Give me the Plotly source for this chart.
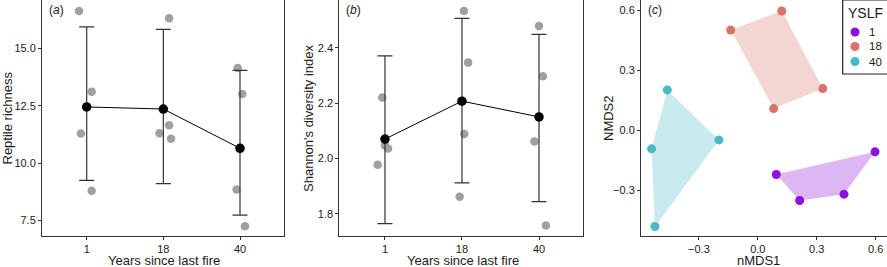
import plotly.graph_objects as go

# ---------------- data ----------------
yslf_labels = ["1", "18", "40"]

# panel (a) reptile richness
rich_mean = [12.45, 12.36, 10.65]
rich_upper = [15.94, 15.83, 14.04]
rich_lower = [9.25, 9.11, 7.74]
rich_pts_group = [0, 0, 0, 0, 1, 1, 1, 1, 2, 2, 2, 2]
rich_pts_jitter = [-0.10, 0.065, -0.075, 0.065, 0.075, 0.075, -0.05, 0.10, -0.03, 0.03, -0.045, 0.065]
rich_pts_val = [16.63, 13.11, 11.29, 8.80, 16.31, 11.65, 11.30, 11.07, 14.15, 13.01, 8.85, 7.25]

# panel (b) Shannon diversity
shan_mean = [2.07, 2.207, 2.15]
shan_upper = [2.370, 2.506, 2.448]
shan_lower = [1.765, 1.912, 1.844]
shan_pts_group = [0, 0, 0, 0, 1, 1, 1, 1, 2, 2, 2, 2]
shan_pts_jitter = [-0.035, 0.0, 0.04, -0.095, 0.025, 0.08, 0.03, -0.03, 0.0, 0.05, -0.06, 0.09]
shan_pts_val = [2.22, 2.047, 2.036, 1.977, 2.532, 2.346, 2.088, 1.862, 2.478, 2.297, 2.061, 1.758]

# panel (c) NMDS (hull order)
nmds1_g1 = [0.094, 0.597, 0.439, 0.213]
nmds2_g1 = [-0.221, -0.1075, -0.319, -0.351]
nmds1_g18 = [-0.138, 0.122, 0.331, 0.081]
nmds2_g18 = [0.5025, 0.5975, 0.209, 0.109]
nmds1_g40 = [-0.461, -0.198, -0.524, -0.541]
nmds2_g40 = [0.2025, -0.0475, -0.481, -0.0925]

colors = {"1": "#9010dc", "18": "#d8746a", "40": "#4bbac8"}
fills = {"1": "rgba(144,16,220,0.30)", "18": "rgba(216,116,106,0.30)", "40": "rgba(75,186,200,0.30)"}

FONT = "Liberation Sans, Arial, Helvetica, sans-serif"
TXT = "#1a1a1a"

fig = go.Figure()

def add_panel(xa, ya, pts_group, jitter, vals, mean, upper, lower):
    xs = [g + j for g, j in zip(pts_group, jitter)]
    fig.add_trace(go.Scatter(x=xs, y=vals, mode="markers", xaxis=xa, yaxis=ya,
                             marker=dict(color="#a0a0a0", size=8.5), showlegend=False,
                             hoverinfo="skip"))
    fig.add_trace(go.Scatter(x=[0, 1, 2], y=mean, mode="lines+markers", xaxis=xa, yaxis=ya,
                             line=dict(color="black", width=1),
                             marker=dict(color="black", size=9.5),
                             error_y=dict(type="data", symmetric=False,
                                          array=[u - m for u, m in zip(upper, mean)],
                                          arrayminus=[m - l for m, l in zip(mean, lower)],
                                          color="#333333", thickness=1.2, width=7.5),
                             showlegend=False))

add_panel("x", "y", rich_pts_group, rich_pts_jitter, rich_pts_val, rich_mean, rich_upper, rich_lower)
add_panel("x2", "y2", shan_pts_group, shan_pts_jitter, shan_pts_val, shan_mean, shan_upper, shan_lower)

groups_c = [("1", nmds1_g1, nmds2_g1), ("18", nmds1_g18, nmds2_g18), ("40", nmds1_g40, nmds2_g40)]
for key, xs, ys in groups_c:
    fig.add_trace(go.Scatter(x=xs + [xs[0]], y=ys + [ys[0]], mode="lines", fill="toself",
                             fillcolor=fills[key], line=dict(width=0, color=fills[key]),
                             xaxis="x3", yaxis="y3", showlegend=False, hoverinfo="skip"))
for key, xs, ys in groups_c:
    fig.add_trace(go.Scatter(x=xs, y=ys, mode="markers", name=key,
                             marker=dict(color=colors[key], size=9),
                             xaxis="x3", yaxis="y3", showlegend=False))

W, H = 887, 267
ybot = (H - 235.5) / H

axis_common = dict(showline=True, mirror=True, linecolor="#333333", linewidth=1,
                   ticks="outside", ticklen=3, tickcolor="#333333", showgrid=False,
                   zeroline=False, tickfont=dict(size=11, color=TXT, family=FONT))

fig.update_layout(
    width=W, height=H, margin=dict(l=0, r=0, t=0, b=0, autoexpand=False),
    paper_bgcolor="white", plot_bgcolor="white", showlegend=False,
    font=dict(family=FONT, color=TXT),
    xaxis=dict(domain=[42 / W, 284 / W], range=[-0.583, 2.574], tickvals=[0, 1, 2],
               ticktext=yslf_labels, anchor="y", **axis_common),
    yaxis=dict(domain=[ybot, 1], range=[6.85, 17.11], tickvals=[7.5, 10, 12.5, 15],
               ticktext=["7.5", "10.0", "12.5", "15.0"], anchor="x", **axis_common),
    xaxis2=dict(domain=[339.3 / W, 583.3 / W], range=[-0.593, 2.575], tickvals=[0, 1, 2],
                ticktext=yslf_labels, anchor="y2", **axis_common),
    yaxis2=dict(domain=[ybot, 1], range=[1.722, 2.572], tickvals=[1.8, 2.0, 2.2, 2.4],
                ticktext=["1.8", "2.0", "2.2", "2.4"], anchor="x2", **axis_common),
    xaxis3=dict(domain=[641 / W, 1.0], range=[-0.595, 0.658], tickvals=[-0.3, 0, 0.3, 0.6],
                ticktext=["\u22120.3", "0.0", "0.3", "0.6"], anchor="y3", **axis_common),
    yaxis3=dict(domain=[ybot, 1], range=[-0.526, 0.6525], tickvals=[-0.3, 0, 0.3, 0.6],
                ticktext=["\u22120.3", "0.0", "0.3", "0.6"], anchor="x3", **axis_common),
)

title_font = dict(size=13, color=TXT, family=FONT)
# x-axis titles
for xc, txt in [(164, "Years since last fire"), (462.5, "Years since last fire"), (758.3, "nMDS1")]:
    fig.add_annotation(text=txt, xref="paper", yref="paper", x=xc / W, y=1 - 260.5 / H,
                       xanchor="center", yanchor="middle", showarrow=False, font=title_font)
# y-axis titles
for xc, txt in [(7.5, "Reptile richness"), (309, "Shannon's diversity index"), (609, "NMDS2")]:
    fig.add_annotation(text=txt, xref="paper", yref="paper", x=xc / W, y=1 - 118 / H,
                       xanchor="center", yanchor="middle", textangle=-90, showarrow=False,
                       font=title_font)

for xr, txt in [("x", "(<i>a</i>)"), ("x2", "(<i>b</i>)"), ("x3", "(<i>c</i>)")]:
    fig.add_annotation(text=txt, xref=f"{xr} domain", yref="paper", x=0.02, y=0.995,
                       xanchor="left", yanchor="top", showarrow=False,
                       font=dict(size=12, color=TXT, family=FONT))

# ---- manual legend (YSLF) drawn in pixel-based paper coordinates ----
lx0, ly_bottom = 842.7, 74
fig.add_shape(type="rect", xref="paper", yref="paper",
              x0=lx0 / W, x1=1.02, y0=1 - ly_bottom / H, y1=1.0,
              line=dict(color="#222222", width=1.2), fillcolor="white", layer="above")
fig.add_annotation(text="YSLF", xref="paper", yref="paper", x=845.5 / W, y=1 - 12.5 / H,
                   xanchor="left", yanchor="middle", showarrow=False,
                   font=dict(size=14, color=TXT, family=FONT))
item_y = [32, 46.5, 61.5]
for lab, iy in zip(yslf_labels, item_y):
    fig.add_shape(type="circle", xref="paper", yref="paper",
                  xsizemode="pixel", ysizemode="pixel",
                  xanchor=855 / W, yanchor=1 - iy / H,
                  x0=-4.5, x1=4.5, y0=-4.5, y1=4.5,
                  line=dict(width=0), fillcolor=colors[lab], layer="above")
    fig.add_annotation(text=lab, xref="paper", yref="paper", x=866.5 / W, y=1 - iy / H,
                       xanchor="left", yanchor="middle", showarrow=False,
                       font=dict(size=11.5, color=TXT, family=FONT))

fig.write_html("out.html", config={"displayModeBar": False},
               post_script="document.body.style.margin='0';document.body.style.overflow='hidden';")
